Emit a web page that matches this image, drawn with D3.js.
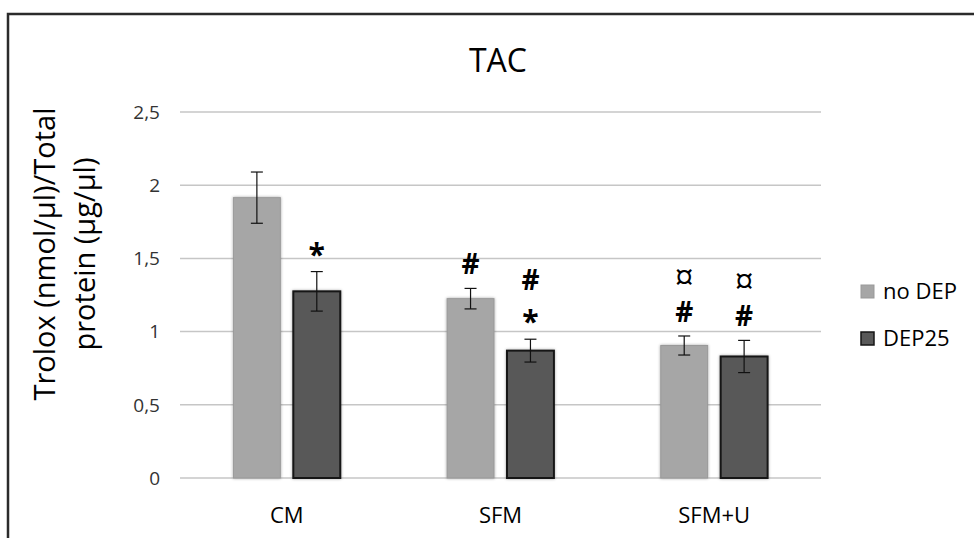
<!DOCTYPE html>
<html lang="en">
<head>
    <meta charset="UTF-8">
    <title>TAC</title>
    <script src="https://cdnjs.cloudflare.com/ajax/libs/d3/7.8.5/d3.min.js"></script>
    <style>
        body {
            margin: 0;
            background-color: #ffffff;
            font-family: "Open Sans", Arial, sans-serif;
        }
        svg {
            display: block;
        }
        .tick-label {
            font-size: 19px;
            fill: #333;
        }
        .cat-label {
            font-size: 22px;
            fill: #000;
        }
        .mark {
            font-weight: bold;
            font-size: 28px;
            fill: #000;
        }
    </style>
</head>
<body>
    <svg width="974" height="538"></svg>
    <script>
const categories = ["CM", "SFM", "SFM+U"];
const seriesNames = ["no DEP", "DEP25"];
const noDep = [1.915, 1.225, 0.905];
const dep25 = [1.275, 0.87, 0.83];
const noDepErr = [0.175, 0.07, 0.065];
const dep25Err = [0.135, 0.078, 0.11];
// significance marks above each bar, bottom to top
const noDepMarks = [[], ["#"], ["#", "¤"]];
const dep25Marks = [["*"], ["*", "#"], ["#", "¤"]];
const yTicks = [0, 0.5, 1, 1.5, 2, 2.5];

const svg = d3.select("svg");
const plot = { left: 180, right: 821, top: 112, bottom: 478 };

const fills = ["#a6a6a6", "#595959"];
const strokes = ["#999999", "#161616"];

const rows = seriesNames.map((name, s) => ({
    name,
    values: s === 0 ? noDep : dep25,
    errs: s === 0 ? noDepErr : dep25Err,
    marks: s === 0 ? noDepMarks : dep25Marks
}));

const y = d3.scaleLinear().domain([0, 2.5]).range([plot.bottom, plot.top]);
const x0 = d3.scaleBand().domain(categories).range([plot.left, plot.right])
    .paddingInner(0.5).paddingOuter(0.25);
const x1 = d3.scaleBand().domain(seriesNames).range([0, x0.bandwidth()])
    .paddingInner(0.2167);

// soft shadow for bars
const defs = svg.append("defs");
const f = defs.append("filter").attr("id", "glow")
    .attr("x", "-20%").attr("y", "-20%").attr("width", "140%").attr("height", "140%");
f.append("feGaussianBlur").attr("in", "SourceAlpha").attr("stdDeviation", 1.5).attr("result", "b");
f.append("feComponentTransfer").attr("in", "b").attr("result", "b2")
    .append("feFuncA").attr("type", "linear").attr("slope", 0.35);
const m = f.append("feMerge");
m.append("feMergeNode").attr("in", "b2");
m.append("feMergeNode").attr("in", "SourceGraphic");

// outer frame (runs off right and bottom)
svg.append("rect")
    .attr("x", 8).attr("y", 14).attr("width", 1100).attr("height", 700)
    .attr("fill", "none").attr("stroke", "#2b2b2b").attr("stroke-width", 2.5);

// title
svg.append("text")
    .attr("x", 498).attr("y", 72)
    .attr("text-anchor", "middle")
    .style("font-size", "32px")
    .text("TAC");

// gridlines
svg.append("g")
    .selectAll("line")
    .data(yTicks)
    .join("line")
    .attr("x1", plot.left).attr("x2", plot.right)
    .attr("y1", d => y(d)).attr("y2", d => y(d))
    .attr("stroke", "#c6c6c6").attr("stroke-width", 1.5);

// y tick labels
const fmt = d => String(d).replace(".", ",");
svg.append("g")
    .selectAll("text")
    .data(yTicks)
    .join("text")
    .attr("class", "tick-label")
    .attr("x", 160).attr("y", d => y(d))
    .attr("dy", "0.36em")
    .attr("text-anchor", "end")
    .text(fmt);

// y axis title
const yt = svg.append("text")
    .attr("transform", "translate(66,254) rotate(-90)")
    .attr("text-anchor", "middle")
    .style("font-size", "29px");
yt.append("tspan").attr("x", 0).attr("dy", "-0.38em").text("Trolox (nmol/µl)/Total");
yt.append("tspan").attr("x", 0).attr("dy", "1.38em").text("protein (µg/µl)");

// bars
const groups = svg.append("g")
    .selectAll("g")
    .data(categories)
    .join("g")
    .attr("transform", d => `translate(${x0(d)},0)`);

rows.forEach((row, s) => {
    groups.append("rect")
        .attr("x", x1(row.name))
        .attr("y", (d, i) => y(row.values[i]))
        .attr("width", x1.bandwidth())
        .attr("height", (d, i) => y(0) - y(row.values[i]))
        .attr("fill", fills[s])
        .attr("stroke", strokes[s])
        .attr("stroke-width", s === 0 ? 1 : 2)
        .attr("filter", "url(#glow)");
});

// error bars and marks
const markSize = { "#": 28, "*": 30, "¤": 34 };
const shift = { "#": 10, "*": 17, "¤": 12 };
rows.forEach((row, s) => {
    const cx = x1(row.name) + x1.bandwidth() / 2;
    groups.each(function (d, i) {
        const g = d3.select(this);
        const v = row.values[i], e = row.errs[i];
        const eb = g.append("g").attr("stroke", "#111").attr("stroke-width", 1.2);
        eb.append("line").attr("x1", cx).attr("x2", cx).attr("y1", y(v + e)).attr("y2", y(v - e));
        eb.append("line").attr("x1", cx - 6).attr("x2", cx + 6).attr("y1", y(v + e)).attr("y2", y(v + e));
        eb.append("line").attr("x1", cx - 6).attr("x2", cx + 6).attr("y1", y(v - e)).attr("y2", y(v - e));

        row.marks[i].forEach((mk, k) => {
            const centre = y(v + e) - 24 - k * 35;
            g.append("text")
                .attr("class", "mark")
                .attr("x", cx).attr("y", centre + shift[mk])
                .attr("text-anchor", "middle")
                .style("font-size", markSize[mk] + "px")
                .style("font-weight", mk === "¤" ? "normal" : "bold")
                .text(mk);
        });
    });
});

// category labels
svg.append("g")
    .selectAll("text")
    .data(categories)
    .join("text")
    .attr("class", "cat-label")
    .attr("x", d => x0(d) + x0.bandwidth() / 2)
    .attr("y", 523)
    .attr("text-anchor", "middle")
    .text(d => d);

// legend
const legend = svg.append("g")
    .selectAll("g")
    .data(seriesNames)
    .join("g")
    .attr("transform", (d, i) => `translate(861,${285 + i * 47})`);
legend.append("rect")
    .attr("width", 13).attr("height", 13)
    .attr("fill", (d, i) => fills[i])
    .attr("stroke", (d, i) => strokes[i])
    .attr("stroke-width", (d, i) => i === 0 ? 1 : 1.5);
legend.append("text")
    .attr("x", 22).attr("y", 14)
    .style("font-size", "22px")
    .text(d => d);
    </script>
</body>
</html>
